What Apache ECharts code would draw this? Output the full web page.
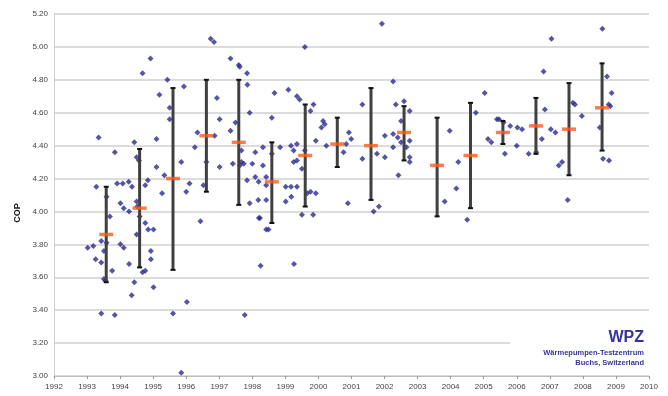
<!DOCTYPE html>
<html>
<head>
<meta charset="utf-8">
<script src="https://cdn.jsdelivr.net/npm/echarts@6/dist/echarts.min.js"></script>
<style>
  html, body { margin: 0; padding: 0; background: #fff; }
  #chart { width: 668px; height: 396px; }
</style>
</head>
<body>
<div id="chart"></div>
<script>
// single heat pump test results [year, COP]
const measured = [
  [1993.02, 3.78], [1993.19, 3.79], [1993.28, 4.15], [1993.26, 3.71], [1993.35, 4.45], [1993.43, 3.82],
  [1993.43, 3.69], [1993.43, 3.38], [1993.51, 3.76], [1993.51, 3.59], [1993.56, 3.58], [1993.59, 3.81],
  [1993.59, 4.09], [1993.69, 3.97], [1993.76, 3.64], [1993.84, 4.36], [1993.84, 3.37], [1993.91, 4.17],
  [1994.01, 4.05], [1994.01, 3.80], [1994.08, 4.17], [1994.11, 4.02], [1994.11, 3.78], [1994.26, 4.18],
  [1994.27, 4.00], [1994.27, 3.68], [1994.35, 3.49], [1994.36, 4.15], [1994.43, 4.42], [1994.43, 3.57],
  [1994.50, 4.33], [1994.50, 4.06], [1994.50, 3.86], [1994.52, 4.03], [1994.57, 4.31], [1994.59, 3.97],
  [1994.68, 4.84], [1994.68, 3.63], [1994.76, 4.16], [1994.76, 3.93], [1994.76, 3.64], [1994.84, 4.19],
  [1994.85, 3.89], [1994.92, 4.93], [1994.93, 3.76], [1994.93, 3.71],
  [1995.01, 3.89], [1995.01, 3.54], [1995.10, 4.44], [1995.10, 4.27], [1995.19, 4.71], [1995.27, 4.11],
  [1995.34, 4.22], [1995.43, 4.80], [1995.50, 4.63], [1995.50, 4.56], [1995.60, 3.38], [1995.85, 4.30],
  [1995.85, 3.02], [1995.93, 4.76],
  [1996.00, 4.12], [1996.02, 3.45], [1996.10, 4.17], [1996.26, 4.39], [1996.34, 4.48], [1996.43, 3.94],
  [1996.52, 4.16], [1996.61, 4.30], [1996.74, 5.05], [1996.84, 5.03], [1996.86, 4.46], [1996.93, 4.69],
  [1997.01, 4.56], [1997.01, 4.27], [1997.34, 4.93], [1997.34, 4.49], [1997.41, 4.29], [1997.49, 4.54],
  [1997.59, 4.89], [1997.62, 4.88], [1997.62, 4.28], [1997.67, 4.37], [1997.67, 4.30], [1997.74, 4.29],
  [1997.77, 3.37], [1997.84, 4.84], [1997.84, 4.19], [1997.85, 4.77], [1997.92, 4.60], [1997.92, 4.05],
  [1998.00, 4.29], [1998.09, 4.36], [1998.09, 4.21], [1998.18, 4.07], [1998.19, 4.18], [1998.20, 3.96],
  [1998.23, 3.96], [1998.25, 3.67], [1998.32, 4.39], [1998.32, 4.28], [1998.42, 4.21], [1998.42, 4.16],
  [1998.42, 4.07], [1998.42, 3.89], [1998.49, 3.89], [1998.59, 4.57], [1998.59, 4.35], [1998.67, 4.72],
  [1998.84, 4.39],
  [1999.01, 4.15], [1999.01, 4.06], [1999.09, 4.74], [1999.17, 4.40], [1999.17, 4.15], [1999.18, 4.09],
  [1999.25, 4.37], [1999.25, 4.30], [1999.26, 3.68], [1999.35, 4.70], [1999.35, 4.41], [1999.35, 4.31],
  [1999.35, 4.15], [1999.43, 4.68], [1999.50, 4.26], [1999.50, 3.98], [1999.59, 5.00], [1999.59, 4.37],
  [1999.66, 4.11], [1999.76, 4.61], [1999.76, 4.12], [1999.84, 3.98], [1999.85, 4.65], [1999.92, 4.43],
  [1999.92, 4.11],
  [2000.09, 4.51], [2000.14, 4.55], [2000.19, 4.53], [2000.24, 4.40], [2000.76, 4.36], [2000.84, 4.41],
  [2000.89, 4.05], [2000.92, 4.48], [2000.99, 4.44],
  [2001.33, 4.65], [2001.33, 4.32], [2001.67, 4.00], [2001.77, 4.35], [2001.83, 4.03], [2001.92, 5.14],
  [2002.01, 4.46], [2002.01, 4.33], [2002.26, 4.79], [2002.26, 4.47], [2002.26, 4.39], [2002.34, 4.65],
  [2002.40, 4.45], [2002.42, 4.22], [2002.50, 4.55], [2002.50, 4.42], [2002.59, 4.67], [2002.66, 4.39],
  [2002.76, 4.61], [2002.76, 4.43], [2002.76, 4.33], [2002.76, 4.30],
  [2003.82, 4.06], [2003.97, 4.49],
  [2004.17, 4.14], [2004.23, 4.30], [2004.50, 3.95], [2004.76, 4.60],
  [2005.03, 4.72], [2005.13, 4.44], [2005.23, 4.42], [2005.40, 4.56], [2005.46, 4.56], [2005.60, 4.54],
  [2005.64, 4.35], [2005.80, 4.52],
  [2006.00, 4.40], [2006.02, 4.51], [2006.16, 4.50], [2006.36, 4.35], [2006.59, 4.36], [2006.76, 4.44],
  [2006.81, 4.85], [2006.85, 4.62],
  [2007.03, 4.50], [2007.05, 5.05], [2007.17, 4.48], [2007.27, 4.28], [2007.37, 4.30], [2007.54, 4.07],
  [2007.70, 4.66], [2007.76, 4.65], [2007.97, 4.58],
  [2008.51, 4.51], [2008.59, 5.11], [2008.61, 4.32], [2008.73, 4.82], [2008.78, 4.65], [2008.83, 4.64],
  [2008.79, 4.31], [2008.87, 4.72]
];

// yearly mean and spread
const barYear = [1993.58, 1994.59, 1995.60, 1996.61, 1997.59, 1998.59, 1999.60, 2000.57,
  2001.59, 2002.59, 2003.59, 2004.60, 2005.58, 2006.58, 2007.58, 2008.58];
const meanCop = [3.86, 4.02, 4.20, 4.46, 4.42, 4.18, 4.34, 4.41, 4.40, 4.48, 4.28, 4.34, 4.48, 4.52, 4.50, 4.63];
const highCop = [4.15, 4.38, 4.75, 4.80, 4.80, 4.42, 4.65, 4.57, 4.75, 4.64, 4.57, 4.66, 4.55, 4.69, 4.78, 4.90];
const lowCop = [3.57, 3.66, 3.645, 4.12, 4.04, 3.93, 4.03, 4.27, 4.07, 4.31, 3.97, 4.02, 4.41, 4.35, 4.22, 4.37];

const font = 'Liberation Sans, Arial, sans-serif';
const textBlue = '#34349a';

const chart = echarts.init(document.getElementById('chart'));

const option = {
  backgroundColor: '#ffffff',
  animation: false,
  grid: { left: 54, right: 19, top: 14, bottom: 20 },
  xAxis: {
    type: 'value',
    min: 1992,
    max: 2010,
    interval: 1,
    axisLine: { show: true, lineStyle: { color: '#bdbdbd', width: 1 } },
    axisTick: { show: true, length: 3, lineStyle: { color: '#999' } },
    axisLabel: {
      fontFamily: font,
      fontSize: 8,
      color: '#444',
      margin: 7,
      formatter: (v) => String(v),
    },
    splitLine: { show: false },
  },
  yAxis: {
    type: 'value',
    min: 3.0,
    max: 5.2,
    interval: 0.2,
    axisLine: { show: true, lineStyle: { color: '#cfcfcf', width: 1 } },
    axisTick: { show: false },
    axisLabel: {
      fontFamily: font,
      fontSize: 8,
      color: '#444',
      margin: 6,
      formatter: (v) => v.toFixed(2),
    },
    splitLine: { show: true, lineStyle: { color: '#dcdcdc', width: 2 } },
  },
  graphic: [
    {
      type: 'rect',
      shape: { x: 510, y: 326, width: 141, height: 44 },
      style: { fill: '#ffffff' },
      z: 1,
    },
    {
      type: 'text',
      x: 18,
      y: 213,
      rotation: Math.PI / 2,
      style: { text: 'COP', font: 'bold 9px ' + font, fill: '#222', align: 'center', verticalAlign: 'middle' },
    },
    {
      type: 'text',
      x: 644,
      y: 338,
      style: { text: 'WPZ', font: 'bold 16px ' + font, fill: textBlue, align: 'right', verticalAlign: 'middle' },
      z: 2,
    },
    {
      type: 'text',
      x: 644,
      y: 353,
      style: { text: 'Wärmepumpen-Testzentrum', font: 'bold 7.5px ' + font, fill: textBlue, align: 'right', verticalAlign: 'middle' },
      z: 2,
    },
    {
      type: 'text',
      x: 644,
      y: 363,
      style: { text: 'Buchs, Switzerland', font: 'bold 7.5px ' + font, fill: textBlue, align: 'right', verticalAlign: 'middle' },
      z: 2,
    },
  ],
  series: [
    {
      name: 'measured',
      type: 'scatter',
      data: measured,
      symbol: 'diamond',
      symbolSize: 6,
      itemStyle: { color: '#2a2a8e' },
      z: 3,
    },
    {
      name: 'spread',
      type: 'custom',
      data: barYear.map((y, i) => [y, lowCop[i], highCop[i]]),
      encode: { x: 0, y: [1, 2] },
      renderItem: (params, api) => {
        const x = api.value(0);
        const top = api.coord([x, api.value(2)]);
        const bot = api.coord([x, api.value(1)]);
        const cap = 2.5;
        return {
          type: 'group',
          children: [
            {
              type: 'line',
              shape: { x1: top[0], y1: top[1], x2: bot[0], y2: bot[1] },
              style: { stroke: '#404040', lineWidth: 3 },
            },
            {
              type: 'line',
              shape: { x1: top[0] - cap, y1: top[1], x2: top[0] + cap, y2: top[1] },
              style: { stroke: '#111', lineWidth: 2 },
            },
            {
              type: 'line',
              shape: { x1: bot[0] - cap, y1: bot[1], x2: bot[0] + cap, y2: bot[1] },
              style: { stroke: '#111', lineWidth: 2 },
            },
          ],
        };
      },
      z: 4,
    },
    {
      name: 'mean',
      type: 'scatter',
      data: barYear.map((y, i) => [y, meanCop[i]]),
      symbol: 'rect',
      symbolSize: [14, 3.5],
      itemStyle: { color: '#ff5a1c' },
      z: 5,
    },
  ],
};

chart.setOption(option);
</script>
</body>
</html>
